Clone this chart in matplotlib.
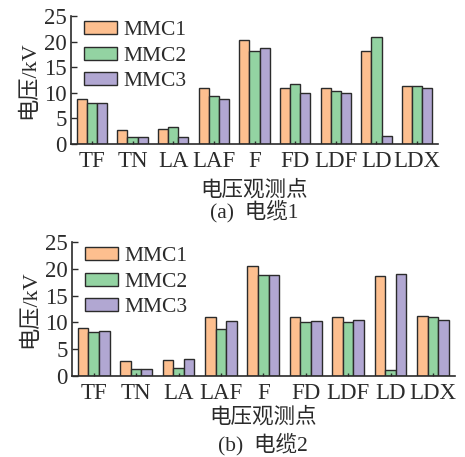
import matplotlib
matplotlib.use("Agg")
import matplotlib.pyplot as plt
import numpy as np

plt.rcParams["font.family"] = ["Liberation Serif", "Noto Sans CJK SC"]
plt.rcParams["axes.unicode_minus"] = False

points = ["TF", "TN", "LA", "LAF", "F", "FD", "LDF", "LD", "LDX"]
series_names = ["MMC1", "MMC2", "MMC3"]
colors = ["#FDBF8F", "#93D3A2", "#B1A7D2"]

# cable 1
cable1_mmc1 = [8.8, 2.7, 2.9, 10.9, 20.3, 10.9, 10.9, 18.1, 11.3]
cable1_mmc2 = [8.1, 1.3, 3.3, 9.3, 18.1, 11.7, 10.4, 20.9, 11.3]
cable1_mmc3 = [8.1, 1.3, 1.4, 8.8, 18.7, 10.0, 10.0, 1.5, 10.9]

# cable 2
cable2_mmc1 = [9.0, 2.7, 2.9, 11.0, 20.5, 11.0, 11.0, 18.6, 11.1]
cable2_mmc2 = [8.2, 1.3, 1.4, 8.8, 18.8, 10.0, 10.0, 1.0, 11.0]
cable2_mmc3 = [8.4, 1.3, 3.2, 10.3, 18.8, 10.3, 10.5, 19.1, 10.4]

# (series, caption, axes box in px [left, right, top, bottom], xlabel y, caption y)
panels = [
    ([cable1_mmc1, cable1_mmc2, cable1_mmc3], "(a)  电缆1",
     [70.7, 438.3, 16.0, 144.0], 190, 211),
    ([cable2_mmc1, cable2_mmc2, cable2_mmc3], "(b)  电缆2",
     [71.7, 455.0, 242.3, 375.7], 417, 444),
]

W, H = 465, 457
INK = "#2b2b2b"
fig = plt.figure(figsize=(W / 100, H / 100), dpi=100)

x = np.arange(len(points))
bw = 0.25

for data, caption, (l, r, t, b), xl_y, cap_y in panels:
    ax = fig.add_axes([l / W, 1 - b / H, (r - l) / W, (b - t) / H])
    for i, (vals, name, c) in enumerate(zip(data, series_names, colors)):
        ax.bar(x + (i - 1) * bw, vals, bw, color=c, edgecolor=INK,
               linewidth=1.0, label=name)
    ax.set_xlim(-0.52, len(points) - 0.48)
    ax.set_ylim(0, 25)
    ax.set_yticks([0, 5, 10, 15, 20, 25])
    ax.set_xticks(x)
    ax.set_xticklabels(points)
    ax.spines["top"].set_visible(False)
    ax.spines["right"].set_visible(False)
    for s in ("left", "bottom"):
        ax.spines[s].set_linewidth(1.2)
        ax.spines[s].set_color(INK)
    ax.tick_params(axis="y", direction="in", length=4, width=1.0,
                   labelsize=16.5, pad=3, colors=INK)
    ax.tick_params(axis="x", direction="in", length=2.5, width=1.0,
                   labelsize=16.5, pad=5, colors=INK)
    ax.set_ylabel("电压/kV", fontsize=16, labelpad=3, color=INK)
    leg = ax.legend(loc="upper left", bbox_to_anchor=(0.0, 1.06), frameon=False,
                    fontsize=15.5, handlelength=1.55, handleheight=0.55,
                    handletextpad=0.3, labelspacing=0.3, borderaxespad=0.2)
    for txt in leg.get_texts():
        txt.set_color(INK)
    cx = (l + r) / 2 / W
    fig.text(cx, 1 - xl_y / H, "电压观测点", ha="center", va="center",
             fontsize=15.5, color=INK)
    fig.text(cx, 1 - cap_y / H, caption, ha="center", va="center",
             fontsize=15.5, color=INK)

fig.savefig("out.png", dpi=100)
